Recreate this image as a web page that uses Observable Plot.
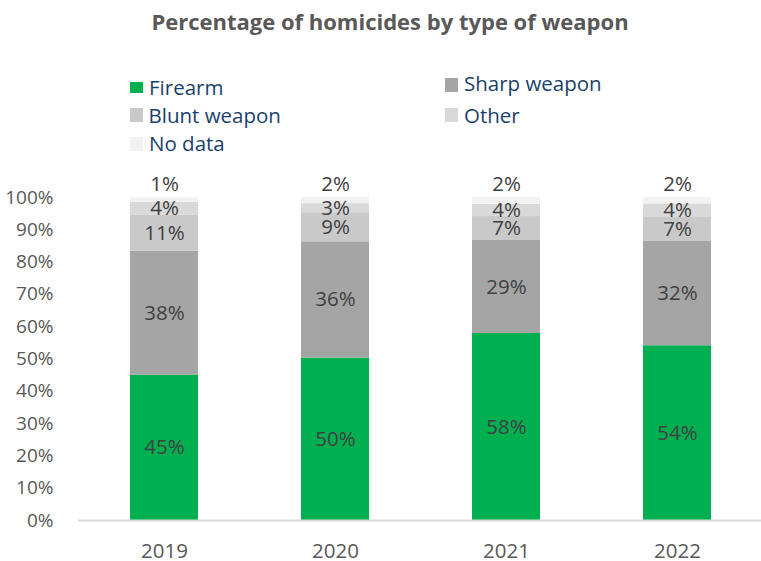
<!DOCTYPE html>
<html>
<head>
<meta charset="utf-8">
<script src="https://cdn.jsdelivr.net/npm/d3@7"></script>
<script src="https://cdn.jsdelivr.net/npm/@observablehq/plot@0.6"></script>
<style>
  html, body { margin: 0; padding: 0; background: #fff; }
  #wrap { position: relative; width: 761px; height: 561px; overflow: hidden; font-family: "Open Sans", sans-serif; }
  #wrap svg { position: absolute; left: 0; top: 0; }
  .title { position: absolute; left: 0; width: 780px; text-align: center; font-weight: bold; color: #595959; white-space: nowrap; line-height: 1; }
  .lg-text { position: absolute; color: #1B3F6B; white-space: nowrap; line-height: 1; }
  .lg-sw { position: absolute; }
</style>
</head>
<body>
<div id="wrap"></div>
<script>
// ---- data ----
const years = ["2019", "2020", "2021", "2022"];
const categories = ["Firearm", "Sharp weapon", "Blunt weapon", "Other", "No data"];
const colors = ["#00B050", "#A5A5A5", "#C9C9C9", "#D9D9D9", "#F2F2F2"];
const firearm = [45.0, 50.3, 57.9, 54.1];
const sharpWeapon = [38.4, 36.0, 28.8, 32.3];
const bluntWeapon = [11.1, 9.0, 7.4, 7.4];
const other = [4.0, 2.8, 3.8, 4.2];
const noData = [1.4, 1.9, 2.1, 2.0];
const yTicks = [0, 10, 20, 30, 40, 50, 60, 70, 80, 90, 100];
const title = "Percentage of homicides by type of weapon";

// ---- build table ----
const series = [firearm, sharpWeapon, bluntWeapon, other, noData];
const rows = [];
years.forEach((year, i) => {
  let acc = 0;
  categories.forEach((cat, k) => {
    const v = series[k][i];
    rows.push({year, category: cat, value: v, y1: acc, y2: acc + v});
    acc += v;
  });
});
const fmt = v => `${Math.round(v)}%`;

const wrap = document.getElementById("wrap");

const chart = Plot.plot({
  width: 761,
  height: 561,
  marginTop: 197,
  marginBottom: 41,
  marginLeft: 78,
  marginRight: 0,
  style: {fontFamily: "Open Sans, sans-serif", background: "transparent"},
  x: {domain: years, paddingInner: 0.6, paddingOuter: 0.28, insetLeft: 3, insetRight: 1},
  y: {domain: [0, 100]},
  color: {domain: categories, range: colors},
  marks: [
    Plot.barY(rows, Plot.stackY({x: "year", y: "value", z: "category", fill: "category", order: categories})),
    Plot.ruleY([0], {stroke: "#D9D9D9", strokeWidth: 2}),
    Plot.text(rows.filter(d => d.category !== "No data"), {
      x: "year", y: d => (d.y1 + d.y2) / 2, text: d => fmt(d.value),
      fill: "#404040", fontSize: 20.5
    }),
    Plot.text(rows.filter(d => d.category === "No data"), {
      x: "year", y: "y2", text: d => fmt(d.value),
      fill: "#404040", fontSize: 20.5, dy: -13
    }),
    Plot.axisY({ticks: yTicks, tickFormat: d => `${d}%`, tickSize: 0, tickPadding: 25, fontSize: 19, fill: "#595959", label: null}),
    Plot.axisX({tickSize: 0, tickPadding: 23, fontSize: 20.5, fill: "#595959", label: null})
  ]
});
wrap.appendChild(chart);

// ---- title ----
const asc = 0.888;
const t = document.createElement("div");
t.className = "title";
const tfs = 22;
t.style.fontSize = tfs + "px";
t.style.top = (29.3 - asc * tfs) + "px";
t.textContent = title;
wrap.appendChild(t);

// ---- legend ----
const lfs = 20.5;
const legendLayout = [
  {sw: [130, 82, 13, 11], tx: 149, base: 95.7},
  {sw: [445, 78, 13, 14], tx: 464, base: 91.7},
  {sw: [130, 108, 13, 14], tx: 148.5, base: 123.3},
  {sw: [445, 108, 13, 14], tx: 464, base: 123.3},
  {sw: [130, 137, 13, 14], tx: 149, base: 151.7}
];
categories.forEach((cat, k) => {
  const L = legendLayout[k];
  const s = document.createElement("div");
  s.className = "lg-sw";
  s.style.left = L.sw[0] + "px"; s.style.top = L.sw[1] + "px";
  s.style.width = L.sw[2] + "px"; s.style.height = L.sw[3] + "px";
  s.style.background = colors[k];
  wrap.appendChild(s);
  const tx = document.createElement("div");
  tx.className = "lg-text";
  tx.style.fontSize = lfs + "px";
  tx.style.left = L.tx + "px";
  tx.style.top = (L.base - asc * lfs) + "px";
  tx.textContent = cat;
  wrap.appendChild(tx);
});
</script>
</body>
</html>
